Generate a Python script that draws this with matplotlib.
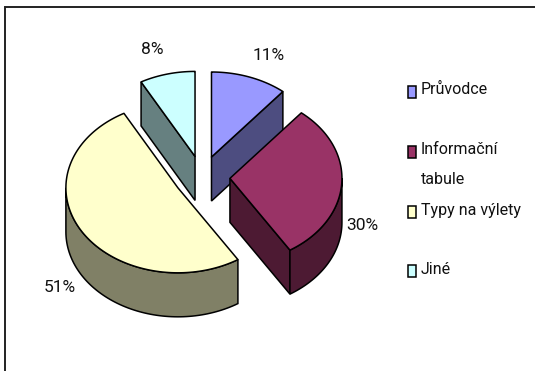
import numpy as np
import matplotlib
matplotlib.use("Agg")
import matplotlib.pyplot as plt
from matplotlib.patches import Polygon, Rectangle

labels = ["Průvodce", "Informační", "Typy na výlety", "Jiné"]
values = [11, 30, 51, 8]
pct_labels = ["11%", "30%", "51%", "8%"]
colors = ["#9999FF", "#993366", "#FFFFCC", "#CCFFFF"]
dark_colors = ["#4D4D80", "#4D1A33", "#808066", "#668080"]

plt.rcParams["font.family"] = ["Roboto", "Liberation Sans", "DejaVu Sans"]

# pie geometry in pixels
cx, cy = 202, 177
rx, ry = 112, 85
depth = 44
explode = 0.25

pct_pos = [(269, 55), (362, 226), (60, 288), (152, 49)]
legend_y = [90, 150, 210, 270]
swatch_y = [91.5, 152, 212, 271]


def rim(t, ox, oy):
    return np.column_stack([ox + rx * np.sin(t), oy - ry * np.cos(t)])


fig = plt.figure(figsize=(5.35, 3.71), dpi=100)
ax = fig.add_axes([0, 0, 1, 1])
ax.set_xlim(0, 535)
ax.set_ylim(371, 0)
ax.axis("off")

ax.add_patch(Rectangle((5, 6.5), 540, 380, fc="white", ec="#222222", lw=1.4))

total = sum(values)
edges = np.cumsum([0] + values) / total * 2 * np.pi
down = np.array([0, depth])

# draw order: back slices first
for i in [3, 0, 2, 1]:
    a0, a1 = edges[i], edges[i + 1]
    mid = (a0 + a1) / 2
    ox = cx + explode * rx * np.sin(mid)
    oy = cy - explode * ry * np.cos(mid)
    apex = np.array([ox, oy])

    # cut faces
    if np.sin(a0) < -1e-6:
        p = rim(np.array([a0]), ox, oy)[0]
        ax.add_patch(Polygon([apex, p, p + down, apex + down], fc=dark_colors[i], ec="black", lw=1.1))
    if np.sin(a1) > 1e-6:
        p = rim(np.array([a1]), ox, oy)[0]
        ax.add_patch(Polygon([apex, p, p + down, apex + down], fc=dark_colors[i], ec="black", lw=1.1))

    # outer wall, only the part facing down
    w0, w1 = max(a0, np.pi / 2), min(a1, 3 * np.pi / 2)
    if w1 > w0:
        arc = rim(np.linspace(w0, w1, 80), ox, oy)
        ax.add_patch(Polygon(np.vstack([arc, arc[::-1] + down]), fc=dark_colors[i], ec="black", lw=1.1))

    # top
    arc = rim(np.linspace(a0, a1, 120), ox, oy)
    ax.add_patch(Polygon(np.vstack([apex, arc]), fc=colors[i], ec="black", lw=1.1, joinstyle="round"))

for (x, y), s in zip(pct_pos, pct_labels):
    ax.text(x, y, s, fontsize=12.5, ha="center", va="center", color="#111111")

for y, sy, s, c in zip(legend_y, swatch_y, labels, colors):
    ax.add_patch(Rectangle((408, sy - 6), 8, 12, fc=c, ec="black", lw=1.1))
    ax.text(421, y, s, fontsize=11.5, va="center", ha="left", color="#111111")
ax.text(421, 180, "tabule", fontsize=11.5, va="center", ha="left", color="#111111")

plt.savefig("out.png", dpi=100)
